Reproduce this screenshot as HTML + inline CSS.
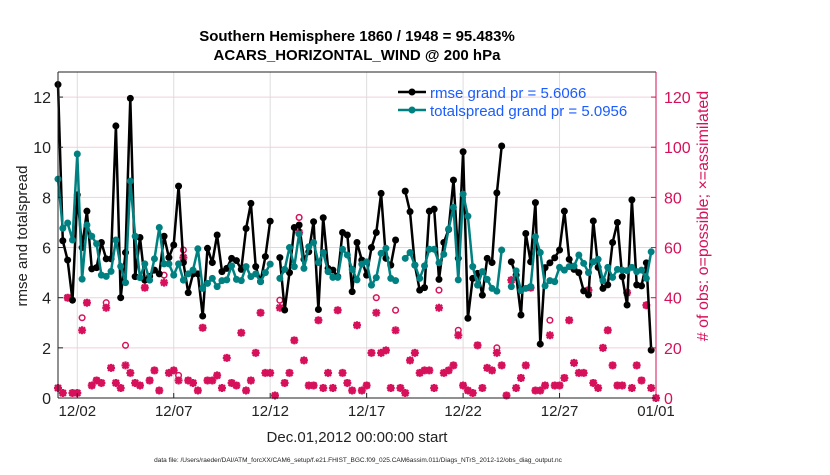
<!DOCTYPE html>
<html><head><meta charset="utf-8"><style>
body{margin:0;background:#fff;}
svg text{font-family:"Liberation Sans",sans-serif;}
</style></head><body>
<svg id="chart" width="830" height="470" xmlns="http://www.w3.org/2000/svg">
<rect width="830" height="470" fill="#fff"/>
<g id="grid"></g><g id="marks"></g><g id="axes"></g>
<text x="357" y="41" text-anchor="middle" font-size="15" font-weight="bold">Southern Hemisphere 1860 / 1948 = 95.483%</text>
<text x="357" y="60" text-anchor="middle" font-size="15" font-weight="bold">ACARS_HORIZONTAL_WIND @ 200 hPa</text>
<text transform="translate(27,236) rotate(-90)" text-anchor="middle" font-size="15" fill="#222">rmse and totalspread</text>
<text transform="translate(708,216) rotate(-90)" text-anchor="middle" font-size="16" fill="#d6105a"># of obs: o=possible; ×=assimilated</text>
<text x="357" y="442" text-anchor="middle" font-size="15" fill="#222">Dec.01,2012 00:00:00 start</text>
<text x="358" y="462" text-anchor="middle" font-size="6.5" fill="#222">data file: /Users/raeder/DAI/ATM_forcXX/CAM6_setup/f.e21.FHIST_BGC.f09_025.CAM6assim.011/Diags_NTrS_2012-12/obs_diag_output.nc</text>
<g>
<line x1="398" y1="92" x2="426" y2="92" stroke="#000" stroke-width="2.5"/><circle cx="412" cy="92" r="3.5" fill="#000"/>
<text x="430" y="98" font-size="15" fill="#1a5cff">rmse grand pr = 5.6066</text>
<line x1="398" y1="110" x2="426" y2="110" stroke="#008080" stroke-width="2.5"/><circle cx="412" cy="110" r="3.5" fill="#008080"/>
<text x="430" y="116" font-size="15" fill="#1a5cff">totalspread grand pr = 5.0956</text>
</g>
</svg>
<script>
const xTickLabels=["12/02","12/07","12/12","12/17","12/22","12/27","01/01"];
const xTickDays=[1,6,11,16,21,26,31];
const yTicks=[0,2,4,6,8,10,12];
const y2Ticks=[0,20,40,60,80,100,120];
const rmse=[12.5,6.27,5.5,3.9,8.1,6.0,7.45,5.15,5.2,6.2,5.55,5.55,10.85,4.0,5.8,11.95,4.84,6.4,4.7,4.85,5.1,4.95,6.45,5.6,6.1,8.45,5.4,4.2,4.95,4.95,3.27,5.97,
5.4,6.5,5.04,5.17,5.57,5.48,5.13,6.76,7.76,5.24,4.64,5.64,7.05,null,5.6,3.51,5.0,6.8,6.9,5.53,5.83,7.03,3.53,7.19,5.17,5.1,4.84,6.6,6.5,4.24,6.2,
5.5,4.9,6.0,6.6,8.16,5.57,5.3,6.3,null,8.25,7.43,5.3,4.3,4.4,7.45,7.53,4.73,6.2,6.72,8.69,5.57,9.82,3.18,4.77,4.97,4.1,5.57,5.4,8.18,10.05,null,
5.43,4.9,3.31,6.56,5.43,7.79,2.15,5.2,5.39,5.59,5.9,7.45,5.53,5.13,5.0,4.27,4.11,7.06,5.21,4.37,4.51,6.2,7.0,4.84,3.71,7.9,4.51,4.47,5.39,1.91];
const spread=[8.73,6.77,6.98,6.3,9.73,4.74,6.9,6.45,6.15,4.9,4.85,5.05,6.3,5.25,4.6,8.65,6.45,4.8,5.35,4.7,5.55,6.8,5.35,5.35,4.9,5.35,4.7,4.95,5.1,5.95,4.37,4.57,
4.77,4.44,4.68,4.71,5.27,4.73,4.68,5.24,4.84,4.95,4.64,5.0,5.34,null,4.77,5.13,6.0,5.24,6.54,5.17,6.03,6.2,5.4,5.8,5.04,4.81,4.81,5.93,5.7,5.13,4.71,
5.34,5.43,4.5,4.8,5.77,5.97,4.77,4.68,null,5.57,5.8,5.3,4.77,5.27,5.93,5.93,5.39,5.73,6.74,7.6,4.71,8.13,7.25,5.24,4.5,5.04,4.73,4.37,4.26,5.9,null,
4.44,5.07,4.28,4.37,4.44,6.43,5.8,4.47,4.68,4.64,5.21,5.1,5.24,5.26,5.7,5.37,5.0,5.43,5.53,4.68,5.21,4.81,5.13,5.1,5.08,5.21,5.04,5.1,4.77,5.83];
const nAssim=[4,2,40,2,2,27,38,5,7,6,36,12,6,4,13,10,6,5,44,7,11,3,46,10,11,7,56,7,6,3,28,7,
7,9,4,16,6,5,26,3,7,18,34,10,10,1,36,6,10,23,66,15,5,5,31,4,10,4,35,10,6,3,29,
3,5,18,34,18,19,4,27,4,2,15,18,10,11,11,4,36,10,11,13,25,5,3,2,21,4,12,11,18,13,1,
47,4,8,13,44,3,3,5,25,5,5,8,31,14,10,10,43,6,4,20,27,13,5,5,42,4,13,7,37,4,0];
const nPoss=[4,2,40,2,2,32,38,5,7,6,38,12,6,4,21,10,6,5,44,7,11,3,49,10,11,9,59,7,6,3,28,7,
7,9,4,16,6,5,26,3,7,18,34,10,10,1,39,6,10,23,72,15,5,5,31,4,10,4,35,10,6,3,29,
3,5,18,40,18,19,4,35,4,2,15,18,10,11,11,4,43,10,11,13,27,5,3,2,21,4,12,11,20,13,1,
47,4,8,13,44,3,3,5,31,5,5,8,31,14,10,10,43,6,4,20,27,13,5,5,42,4,13,7,37,4,0];

const L=58,R=656,T=72,B=398,NS="http://www.w3.org/2000/svg";
const xDay=d=>L+(R-L)*d/31;
const xIdx=i=>xDay(i*0.25);
const yL=v=>B-(B-T)*v/13;
const yR=v=>B-(B-T)*v/130;
function mk(tag,attrs,parent){const e=document.createElementNS(NS,tag);for(const k in attrs)e.setAttribute(k,attrs[k]);parent.appendChild(e);return e;}
const grid=document.getElementById('grid'),marks=document.getElementById('marks'),axes=document.getElementById('axes');
xTickDays.forEach((d,i)=>{
  const g=mk('line',{x1:xDay(d),x2:xDay(d),y1:T,y2:B,stroke:'#ddd','stroke-width':1},grid);
  
  
  mk('line',{x1:xDay(d),x2:xDay(d),y1:B,y2:B-5,stroke:'#222'},axes);
  const lb=mk('text',{x:xDay(d),y:B+18,'text-anchor':'middle','font-size':15,fill:'#222'},axes);
  lb.textContent=xTickLabels[i];
  
  
});
yTicks.forEach(v=>{
  if(v>0){const g=mk('line',{x1:L,x2:R,y1:yL(v),y2:yL(v),stroke:'#f3cfdc','stroke-width':1},grid);
  
  }
  mk('line',{x1:L,x2:L+5,y1:yL(v),y2:yL(v),stroke:'#222'},axes);
  const lb=mk('text',{x:L-7,y:yL(v)+6,'text-anchor':'end','font-size':16,fill:'#222'},axes);
  lb.textContent=v;
  
  
});
y2Ticks.forEach(v=>{
  mk('line',{x1:R-5,x2:R,y1:yR(v),y2:yR(v),stroke:'#d6105a'},axes);
  const lb=mk('text',{x:R+8,y:yR(v)+6,'font-size':16,fill:'#d6105a'},axes);
  lb.textContent=v;
  
  
});
mk('line',{x1:L,x2:R,y1:T,y2:T,stroke:'#222','stroke-width':1},axes);
mk('line',{x1:L,x2:R,y1:B,y2:B,stroke:'#222','stroke-width':1},axes);
mk('line',{x1:L,x2:L,y1:T,y2:B,stroke:'#222','stroke-width':1},axes);
mk('line',{x1:R,x2:R,y1:T,y2:B,stroke:'#d6105a','stroke-width':1},axes);

nPoss.forEach((v,i)=>{
  const c=mk('circle',{cx:xIdx(i),cy:yR(v),r:2.8,fill:'none',stroke:'#d6105a','stroke-width':1.5},marks);
  
  
});
nAssim.forEach((v,i)=>{
  const x=xIdx(i),y=yR(v),s=4;
  const p=mk('path',{d:`M${x-s},${y}H${x+s}M${x},${y-s}V${y+s}M${x-3},${y-3}L${x+3},${y+3}M${x-3},${y+3}L${x+3},${y-3}`,stroke:'#d6105a','stroke-width':2.2},marks);
  
  
});
function series(vals,color,name){
  let d='',pen=false;
  vals.forEach((v,i)=>{if(v==null){pen=false;return;}d+=(pen?'L':'M')+xIdx(i).toFixed(1)+','+yL(v).toFixed(1);pen=true;});
  const p=mk('path',{d:d,fill:'none',stroke:color,'stroke-width':2.5,'stroke-linejoin':'round'},marks);
  
  
  vals.forEach((v,i)=>{if(v==null)return;
    const c=mk('circle',{cx:xIdx(i),cy:yL(v),r:3.5,fill:color},marks);
    
    
  });
}
series(rmse,'#000','rmse');
series(spread,'#008080','totalspread');
</script>
</body></html>
